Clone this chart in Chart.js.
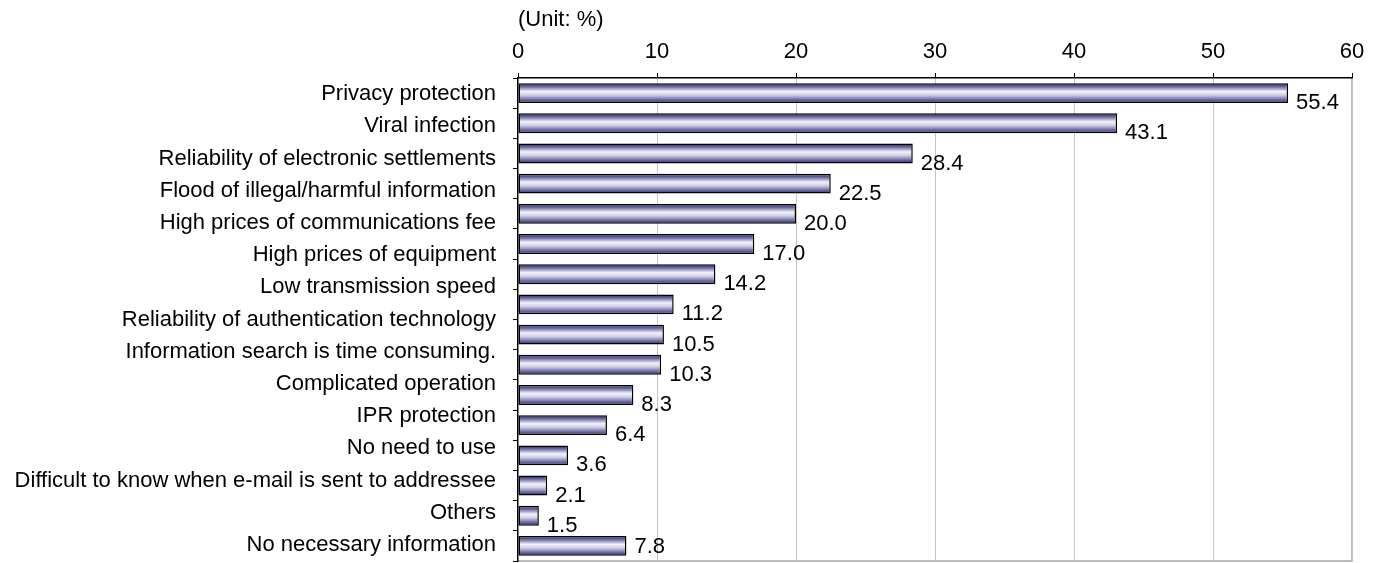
<!DOCTYPE html>
<html>
<head>
<meta charset="utf-8">
<script src="https://cdn.jsdelivr.net/npm/chart.js@4/dist/chart.umd.min.js"></script>
<style>
  html, body { margin: 0; padding: 0; background: #fff; }
  #wrap { width: 1380px; height: 563px; position: relative; }
</style>
</head>
<body>
<div id="wrap"><canvas id="concernChart"></canvas></div>
<script>
// 15 item names, listed evenly down the left side
const categories = [
    'Privacy protection',
    'Viral infection',
    'Reliability of electronic settlements',
    'Flood of illegal/harmful information',
    'High prices of communications fee',
    'High prices of equipment',
    'Low transmission speed',
    'Reliability of authentication technology',
    'Information search is time consuming.',
    'Complicated operation',
    'IPR protection',
    'No need to use',
    'Difficult to know when e-mail is sent to addressee',
    'Others',
    'No necessary information'
];
// 16 bars, top to bottom
const shares = [55.4, 43.1, 28.4, 22.5, 20.0, 17.0, 14.2, 11.2, 10.5, 10.3, 8.3, 6.4, 3.6, 2.1, 1.5, 7.8];
const barSlots = shares.map(() => '');
const axisMax = 60;
const axisStep = 10;
const unitNote = '(Unit: %)';

const FONT = 'Arial, "Liberation Sans", sans-serif';
const FONT_SIZE = 22;
const BAR_PCT = 0.66;

// cylinder-style shading, recomputed for each bar's own height
function barGradient(ctx) {
    const chart = ctx.chart;
    const yScale = chart.scales.y;
    if (!chart.chartArea || !yScale) return '#66669a';
    const c = yScale.getPixelForValue(ctx.dataIndex);
    const band = (yScale.bottom - yScale.top) / shares.length;
    const half = band * BAR_PCT / 2;
    const g = chart.ctx.createLinearGradient(0, c - half, 0, c + half);
    g.addColorStop(0, '#232358');
    g.addColorStop(0.18, '#6a6aa4');
    g.addColorStop(0.42, '#f2f2fa');
    g.addColorStop(0.6, '#d0d0e6');
    g.addColorStop(0.85, '#62629c');
    g.addColorStop(1, '#292962');
    return g;
}

// gray frame on the right and bottom of the plot
const frame = {
    id: 'frame',
    beforeDraw(chart) {
        const { ctx, chartArea: a } = chart;
        ctx.save();
        ctx.strokeStyle = '#a6a6a6';
        ctx.lineWidth = 1.5;
        ctx.beginPath();
        ctx.moveTo(a.right, a.top);
        ctx.lineTo(a.right, a.bottom);
        ctx.lineTo(a.left, a.bottom);
        ctx.stroke();
        ctx.restore();
    }
};

// value next to each bar, a little below its middle (kept inside the plot)
const valueLabels = {
    id: 'valueLabels',
    afterDatasetsDraw(chart) {
        const { ctx, chartArea } = chart;
        const meta = chart.getDatasetMeta(0);
        ctx.save();
        ctx.font = FONT_SIZE + 'px ' + FONT;
        ctx.fillStyle = '#000';
        ctx.textAlign = 'left';
        ctx.textBaseline = 'middle';
        meta.data.forEach((bar, i) => {
            const y = Math.min(bar.y + 10, chartArea.bottom - 14);
            ctx.fillText(shares[i].toFixed(1), bar.x + 8, y);
        });
        ctx.restore();
    }
};

// keep the vertical scales from reserving room for overhanging labels
function fixWidth(w) {
    return scale => {
        scale.width = w;
        scale.paddingTop = 0;
        scale.paddingBottom = 0;
    };
}

new Chart(document.getElementById('concernChart'), {
    type: 'bar',
    data: {
        labels: barSlots,
        datasets: [{
            data: shares,
            backgroundColor: barGradient,
            borderColor: '#000',
            borderWidth: 1.5,
            borderSkipped: false,
            barPercentage: BAR_PCT,
            categoryPercentage: 1
        }]
    },
    options: {
        indexAxis: 'y',
        responsive: true,
        maintainAspectRatio: false,
        animation: false,
        layout: { padding: { top: 0, right: 28, bottom: 2, left: 0 } },
        plugins: {
            legend: { display: false },
            tooltip: { enabled: false }
        },
        scales: {
            x: {
                position: 'top',
                min: 0,
                max: axisMax,
                ticks: {
                    stepSize: axisStep,
                    color: '#000',
                    padding: 8,
                    font: { size: FONT_SIZE, family: FONT }
                },
                grid: {
                    color: c => c.tick && c.tick.value === 0 ? 'rgba(0,0,0,0)' : '#c4c4c4',
                    tickColor: '#000',
                    tickLength: 5,
                    lineWidth: 1
                },
                border: { color: '#000', width: 1.5 },
                title: {
                    display: true,
                    text: unitNote,
                    align: 'start',
                    color: '#000',
                    font: { size: FONT_SIZE, family: FONT },
                    padding: { top: 7, bottom: 0 }
                },
                afterFit(scale) { scale.height = 78; }
            },
            // bar slots: only the tick marks between bars and the axis line
            y: {
                weight: 0,
                ticks: { display: false },
                grid: {
                    offset: true,
                    drawOnChartArea: false,
                    color: '#000',
                    tickLength: 5
                },
                border: { color: '#000', width: 1.5 },
                afterFit: fixWidth(5)
            },
            // item names on their own category scale
            names: {
                type: 'category',
                axis: 'y',
                position: 'left',
                weight: 1,
                labels: categories,
                offset: true,
                grid: { display: false, drawTicks: false, tickLength: 0 },
                border: { display: false },
                ticks: {
                    color: '#000',
                    padding: 17,
                    autoSkip: false,
                    font: { size: FONT_SIZE, family: FONT }
                },
                afterFit: fixWidth(513)
            }
        }
    },
    plugins: [frame, valueLabels]
});
</script>
</body>
</html>
